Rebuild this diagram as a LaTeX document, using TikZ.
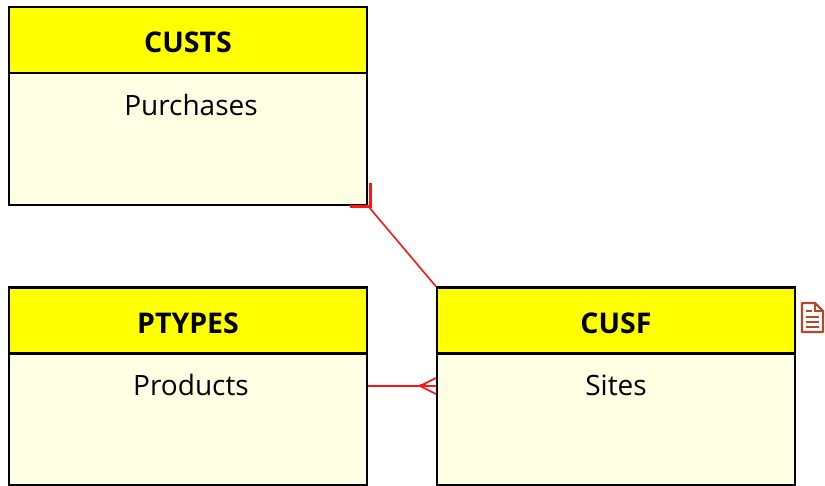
\documentclass[tikz,border=0pt]{standalone}
\usepackage{fontspec}
\setmainfont{Open Sans}
\definecolor{headfill}{RGB}{255,255,0}
\definecolor{bodyfill}{HTML}{FFFFE3}
\definecolor{linkred}{RGB}{255,20,20}
\definecolor{noteline}{HTML}{B5482A}
\begin{document}
\begin{tikzpicture}[x=1pt,y=-1pt,
  head node/.style={rectangle,draw=black,line width=2.2pt,fill=headfill,minimum width=358pt,minimum height=66pt,inner sep=0pt,text height=26pt,font=\fontsize{28.5}{32}\selectfont\bfseries},
  body node/.style={rectangle,draw=black,line width=2.2pt,fill=bodyfill,minimum width=358pt,minimum height=132pt,inner sep=0pt},
  title node/.style={inner sep=0pt,font=\fontsize{28}{32}\selectfont},
  link/.style={draw=linkred,line width=1.6pt},
  mark line/.style={draw=linkred,line width=3pt}]
  \useasboundingbox (0,0) rectangle (825,486);

  \node[body node] (custsbody) at (188,139) {};
  \node[head node] (custs) at (188,40) {CUSTS};
  \node[title node] (custstext) at (191,105) {Purchases};

  \node[body node] (ptypesbody) at (188,419) {};
  \node[head node] (ptypes) at (188,320.5) {PTYPES};
  \node[title node] (ptypestext) at (191,385) {Products};

  \node[body node] (cusfbody) at (616,419) {};
  \node[head node] (cusf) at (616,320.5) {CUSF};
  \node[title node] (cusftext) at (616,385) {Sites};

  \coordinate (ptypesout) at (ptypesbody.east |- 0,386);
  \coordinate (cusfin) at (cusfbody.west |- 0,386);
  \coordinate (forktip) at (420,386);
  \coordinate (forkend) at (426,386);
  \coordinate (forktop) at (436,378);
  \coordinate (forkbot) at (436,394);
  \coordinate (marktop) at (370,183);
  \coordinate (markleft) at (350,207);
  \coordinate (markcorner) at (370,207);

  \path[link]
   (custsbody.south east) edge (cusf.north west)
   (ptypesout) edge (cusfin)
   (forktip) edge (forktop)
   (forktip) edge (forkbot);
  \draw[mark line] (marktop) -- (markcorner) -- (markleft);
  \draw[mark line] (forktip) -- (forkend);

  % note icon
  \draw[noteline,line width=2.4pt,line join=round] (802,303) -- (815,303) -- (823,311) -- (823,332) -- (802,332) -- cycle;
  \draw[noteline,line width=2.4pt] (815,303) -- (815,311) -- (823,311);
  \draw[noteline,line width=2.4pt] (806,311) -- (812,311) (806,317) -- (819,317) (806,322) -- (819,322) (806,327) -- (819,327);
\end{tikzpicture}
\end{document}
